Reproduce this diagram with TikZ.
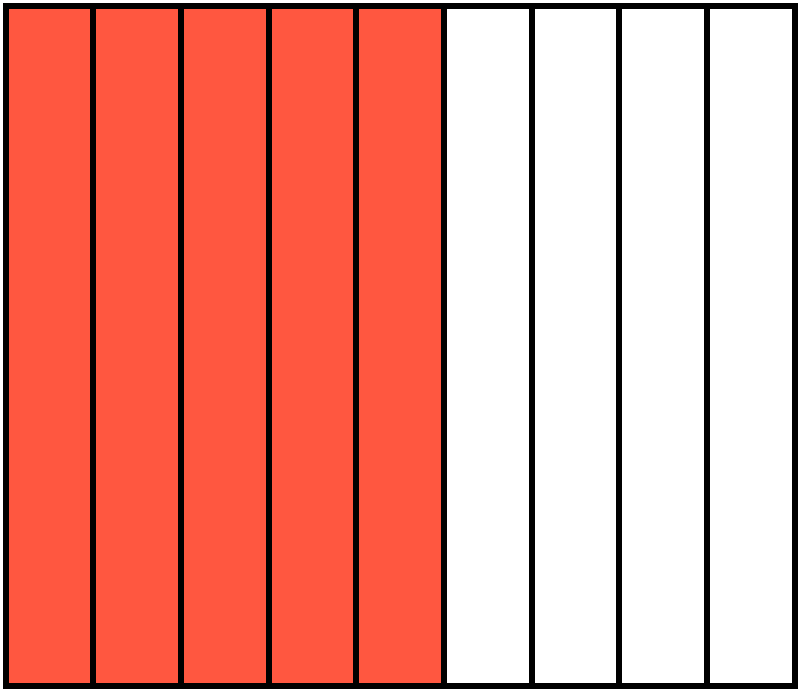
\documentclass[tikz,border=0pt]{standalone}
\usepackage{tikz}
\usepackage{color}
\definecolor{barred}{RGB}{255,87,64}

\begin{document}
\begin{tikzpicture}[x=1pt,y=-1pt]
\useasboundingbox (0,0) rectangle (800,691);
%% закрашенные полосы;
\fill [barred] (5.5,5.5) rectangle (443.8,685.5);
\foreach \i in {1,...,8}
  \draw [black, line width=6pt] ({5.5+87.667*\i},5.5) -- ({5.5+87.667*\i},685.5);
\draw [black, line width=6pt] (5.5,5.5) rectangle (794.5,685.5);
\end{tikzpicture}
\end{document}
